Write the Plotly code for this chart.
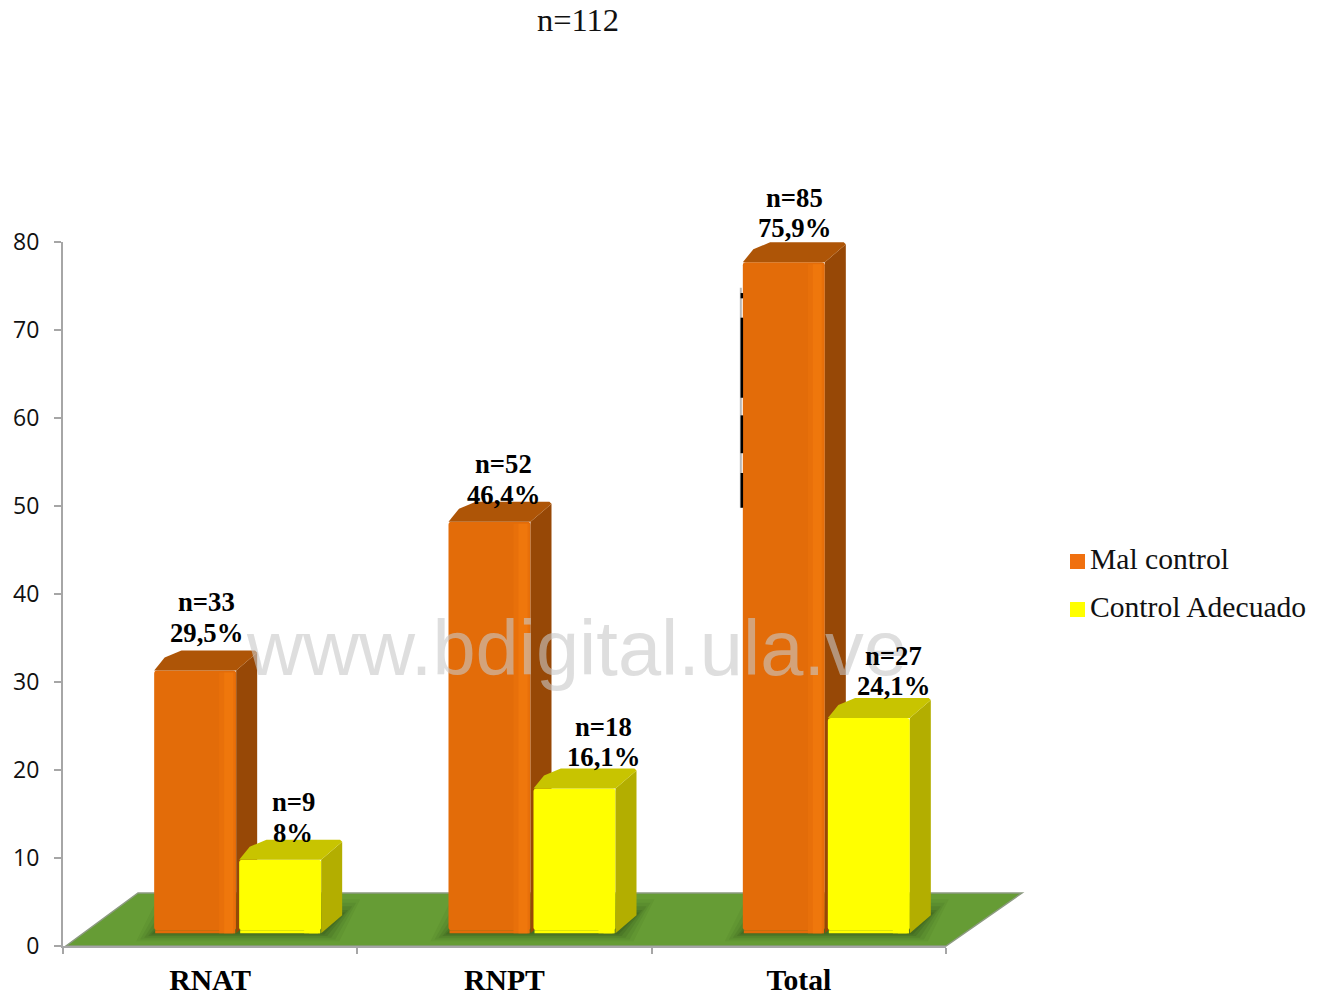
import plotly.graph_objects as go

# Chart data
categories = ["RNAT", "RNPT", "Total"]
mal_control_n = [33, 52, 85]
mal_control_pct = [29.5, 46.4, 75.9]
adecuado_n = [9, 18, 27]
adecuado_pct = [8, 16.1, 24.1]
series_names = ["Mal control", "Control Adecuado"]
y_ticks = [0, 10, 20, 30, 40, 50, 60, 70, 80]

# Canvas and plot area, in pixels
WIDTH, HEIGHT = 1324, 995
PLOT_L, PLOT_R, PLOT_T, PLOT_B = 63, 946, 242, 946
PX_X = 3 / (PLOT_R - PLOT_L)   # category units per pixel
PX_Y = 80 / (PLOT_B - PLOT_T)  # value units per pixel

# Pseudo-3D geometry
BASE = 1.8            # the bars stand on the floor, slightly above zero
FOOT = 1.45           # lower edge of the rounded bar foot
BAR_W = 82 * PX_X
OFFSETS = (-15 * PX_X, 70 * PX_X)
DEPTH_X = 21 * PX_X
DEPTH_Y = 20 * PX_Y

# Label placement relative to the bar top, in pixels
ORANGE_LABEL_DX = [11, 14, 11]
ORANGE_LABEL_DY = [38, 27, 34]
YELLOW_LABEL_DX = [13, 29, 25]
YELLOW_LABEL_DY = [27, 31, 32]
LINE_GAP = 30.5

SERIF = "Liberation Serif"
ORANGE = dict(front="#E36C09", mid="#E8700A", light="#EF770C", top="#AE5507", side="#974806")
YELLOW = dict(front="#FFFF00", mid="#FFFF00", light="#FFFF00", top="#C8C400", side="#B3AE00")


def paper_x(x):
    return (PLOT_L + (x + 0.5) / PX_X) / WIDTH


def paper_y(y):
    return 1 - (PLOT_B - y / PX_Y) / HEIGHT


def poly(points, color, xaxis="x", yaxis="y"):
    xs = [p[0] for p in points] + [points[0][0]]
    ys = [p[1] for p in points] + [points[0][1]]
    return go.Scatter(x=xs, y=ys, mode="lines", fill="toself", fillcolor=color,
                      line=dict(width=0, color=color), hoverinfo="skip",
                      showlegend=False, xaxis=xaxis, yaxis=yaxis)


def paper_path(points):
    return "M " + " L ".join(f"{paper_x(x)},{paper_y(y)}" for x, y in points) + " Z"


def strip(x0, x1, y0, y1, color, xaxis, yaxis):
    return poly([(x0, y0), (x1, y0), (x1, y1), (x0, y1)], color, xaxis, yaxis)


def series_traces(values, counts, offset, palette, name, xaxis, yaxis):
    xs = [i + offset for i in range(len(values))]
    traces = [go.Bar(x=xs, y=values, base=BASE, width=BAR_W, name=name,
                     customdata=counts, showlegend=False,
                     marker=dict(color=palette["front"], line=dict(width=0), cornerradius=3),
                     xaxis=xaxis, yaxis=yaxis)]
    for x, v in zip(xs, values):
        left, right = x - BAR_W / 2, x + BAR_W / 2
        top = BASE + v
        # right-hand face with its slanted foot
        traces.append(poly([(right, top), (right + DEPTH_X, top + DEPTH_Y * 0.9),
                            (right + DEPTH_X, BASE + DEPTH_Y * 0.75), (right, FOOT)],
                           palette["side"], xaxis, yaxis))
        # top face with a chamfered rear corner
        traces.append(poly([(left, top), (left + DEPTH_X * 0.5, top + DEPTH_Y * 0.65),
                            (left + DEPTH_X * 1.3, top + DEPTH_Y),
                            (right + DEPTH_X * 0.9, top + DEPTH_Y),
                            (right + DEPTH_X, top + DEPTH_Y * 0.9), (right, top)],
                           palette["top"], xaxis, yaxis))
        # foot of the front face, then a soft bevel along the right edge
        edge = top - 2 * PX_Y
        traces.append(strip(left + 1 * PX_X, right - 1 * PX_X, FOOT, BASE, palette["front"], xaxis, yaxis))
        traces.append(strip(right - 17 * PX_X, right - 1 * PX_X, FOOT, edge, palette["mid"], xaxis, yaxis))
        traces.append(strip(right - 12 * PX_X, right - 3 * PX_X, FOOT, edge, palette["light"], xaxis, yaxis))
    return traces


fig = go.Figure()

# Orange series on the base subplot, yellow series on an overlay so it sits in front
for tr in series_traces(mal_control_pct, mal_control_n, OFFSETS[0], ORANGE, series_names[0], "x", "y"):
    fig.add_trace(tr)

# Dark stitching along the left edge of the tallest bar
stitch_x = 2 + OFFSETS[0] - BAR_W / 2 - 1 * PX_X
fig.add_trace(go.Scatter(x=[stitch_x - PX_X, stitch_x - PX_X], y=[49.8, 74.8], mode="lines",
                         line=dict(color="#B8B8B8", width=2), hoverinfo="skip", showlegend=False))
fig.add_trace(go.Scatter(x=[stitch_x] * 11,
                         y=[74.2, 73.6, None, 71.4, 62.3, None, 60.3, 56.0, None, 53.75, 49.8],
                         mode="lines", line=dict(color="#000000", width=2.5),
                         hoverinfo="skip", showlegend=False))

for tr in series_traces(adecuado_pct, adecuado_n, OFFSETS[1], YELLOW, series_names[1], "x2", "y2"):
    fig.add_trace(tr)

# Floor and contact shadows
floor_depth_x = 76 * PX_X
floor_depth_y = 53 * PX_Y
floor_left = -0.5 + 3 * PX_X
floor = [(floor_left, 0), (2.5, 0), (2.5 + floor_depth_x, floor_depth_y),
         (floor_left + floor_depth_x - 4 * PX_X, floor_depth_y)]
shapes = [dict(type="path", path=paper_path(floor), xref="paper", yref="paper", layer="below",
               fillcolor="#669C35", line=dict(color="#8C9A80", width=1.5))]
for grow, alpha in ((18, 0.07), (14, 0.09), (10, 0.12), (6, 0.16), (3, 0.2)):
    for i in range(len(categories)):
        x0 = i + OFFSETS[0] - BAR_W / 2 - grow * PX_X
        x1 = i + OFFSETS[1] + BAR_W / 2 + DEPTH_X + grow * PX_X
        y0 = FOOT - grow * 0.05
        y1 = BASE + DEPTH_Y * 0.75 + grow * 0.1
        shapes.append(dict(type="path", xref="paper", yref="paper", layer="below",
                           path=paper_path([(x0, y0), (x1 - DEPTH_X, y0), (x1, y1), (x0 + DEPTH_X, y1)]),
                           fillcolor=f"rgba(38,66,20,{alpha})", line=dict(width=0)))

# Legend swatches, positioned in page fractions
legend_rows = [(series_names[0], "#F0700F", 561.5), (series_names[1], "#FFFF00", 609.5)]
for label, color, yc in legend_rows:
    shapes.append(dict(type="rect", xref="paper", yref="paper", layer="above",
                       x0=1070 / WIDTH, x1=1085 / WIDTH,
                       y0=1 - (yc + 7.5) / HEIGHT, y1=1 - (yc - 7.5) / HEIGHT,
                       fillcolor=color, line=dict(width=0)))

annotations = [
    dict(text="n=112", xref="paper", yref="paper", x=578 / WIDTH, y=1 - 20 / HEIGHT,
         showarrow=False, xanchor="center", yanchor="middle",
         font=dict(family=SERIF, size=32.5, color="#111111")),
    # Site address laid over the plot
    dict(text="www.bdigital.ula.ve", xref="paper", yref="paper", x=576.5 / WIDTH, y=1 - 648 / HEIGHT,
         showarrow=False, xanchor="center", yanchor="middle",
         font=dict(family="Liberation Sans", size=77.6, color="rgba(200,200,200,0.6)")),
]
for label, color, yc in legend_rows:
    annotations.append(dict(text=label, xref="paper", yref="paper", x=1088 / WIDTH,
                            y=1 - (yc - 3) / HEIGHT, showarrow=False,
                            xanchor="left", yanchor="middle",
                            font=dict(family=SERIF, size=29.6, color="#111111")))


def value_labels(values, counts, offset, dxs, dys):
    out = []
    for i, (v, n) in enumerate(zip(values, counts)):
        pct = f"{v}%".replace(".", ",")
        for text, lift in ((pct, dys[i]), (f"n={n}", dys[i] + LINE_GAP)):
            out.append(dict(text=text, x=i + offset, y=BASE + v, xref="x", yref="y",
                            xshift=dxs[i], yshift=lift, showarrow=False,
                            xanchor="center", yanchor="middle",
                            font=dict(family=SERIF, size=26.7, color="#000000", weight=700)))
    return out


annotations += value_labels(mal_control_pct, mal_control_n, OFFSETS[0], ORANGE_LABEL_DX, ORANGE_LABEL_DY)
annotations += value_labels(adecuado_pct, adecuado_n, OFFSETS[1], YELLOW_LABEL_DX, YELLOW_LABEL_DY)

x_domain = [PLOT_L / WIDTH, PLOT_R / WIDTH]
y_domain = [1 - PLOT_B / HEIGHT, 1 - PLOT_T / HEIGHT]
AXIS_GREY = "#A6A6A6"

fig.update_layout(
    width=WIDTH, height=HEIGHT,
    margin=dict(l=0, r=0, t=0, b=0, autoexpand=False),
    paper_bgcolor="white", plot_bgcolor="rgba(0,0,0,0)",
    barmode="overlay", showlegend=False,
    shapes=shapes, annotations=annotations,
    xaxis=dict(domain=x_domain, range=[-0.5, 2.5], tickvals=[0, 1, 2], ticktext=categories,
               ticks="", showgrid=False, zeroline=False, showline=True, automargin=False,
               linecolor=AXIS_GREY, linewidth=2,
               minor=dict(tickvals=[-0.5, 0.5, 1.5, 2.5], ticks="outside", ticklen=6,
                          tickcolor=AXIS_GREY, tickwidth=1.5, showgrid=False),
               tickfont=dict(family=SERIF, size=29.7, color="#000000", weight=700),
               ticklabelstandoff=6),
    yaxis=dict(domain=y_domain, range=[0, 80], tickvals=y_ticks, ticks="outside", ticklen=7,
               tickcolor=AXIS_GREY, tickwidth=1.5, showgrid=False, zeroline=False,
               showline=True, linecolor=AXIS_GREY, linewidth=2, automargin=False,
               tickfont=dict(family="Open Sans", size=23, color="#111111"),
               ticklabelstandoff=10),
    xaxis2=dict(domain=x_domain, range=[-0.5, 2.5], overlaying="x", anchor="y2", visible=False),
    yaxis2=dict(domain=y_domain, range=[0, 80], overlaying="y", anchor="x2", visible=False),
)

fig.write_html("out.html")
